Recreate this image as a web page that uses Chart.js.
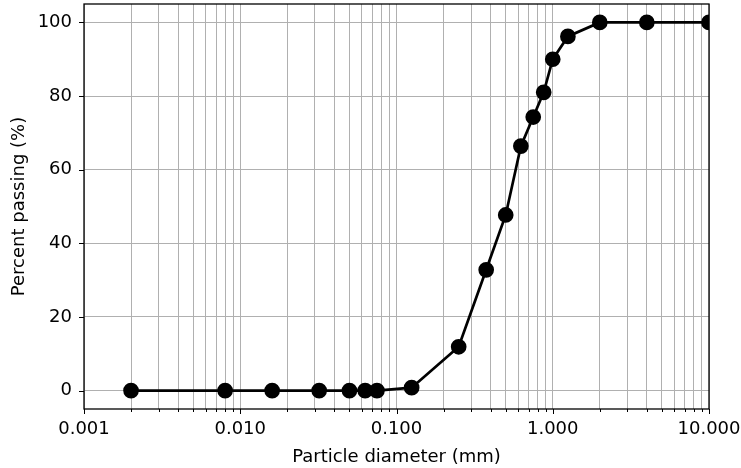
<!DOCTYPE html>
<html>
<head>
<meta charset="utf-8">
<script src="https://cdn.jsdelivr.net/npm/chart.js@4.4.0/dist/chart.umd.min.js"></script>
<style>
  html, body { margin: 0; padding: 0; background: #fff; }
  #wrap { width: 741px; height: 468px; }
</style>
</head>
<body>
<div id="wrap"><canvas id="grading"></canvas></div>
<script>
// sieve sizes (mm) and percent passing
const diameters = [0.002, 0.008, 0.016, 0.032, 0.05, 0.063, 0.075, 0.125, 0.25, 0.375, 0.5, 0.625, 0.75, 0.875, 1.0, 1.25, 2.0, 4.0, 10.0];
const passing = [0, 0, 0, 0, 0, 0, 0, 0.8, 11.9, 32.8, 47.7, 66.4, 74.3, 81.0, 90.0, 96.2, 100, 100, 100];
const yTicks = [0, 20, 40, 60, 80, 100];
const xMajors = [0.001, 0.01, 0.1, 1, 10];

Chart.defaults.font.family = "'DejaVu Sans', sans-serif";
Chart.defaults.font.size = 18;
Chart.defaults.color = '#000';

// all log ticks 1..9 x 10^k between the limits
function logTicks() {
    var out = [];
    for (var k = -3; k <= 0; k++) {
        for (var m = 1; m <= 9; m++) {
            out.push({ value: parseFloat((m * Math.pow(10, k)).toPrecision(3)) });
        }
    }
    out.push({ value: 10 });
    return out;
}
function isMajor(v) {
    return xMajors.some(function (m) { return Math.abs(v - m) / m < 1e-6; });
}
// stop the scales from reserving room for half labels at the ends
function noEdgePadding(scale) {
    scale.paddingTop = 0;
    scale.paddingBottom = 0;
    scale.paddingLeft = 0;
    scale.paddingRight = 0;
}

// tick marks and the box around the plot, like matplotlib
const frame = {
    id: 'frame',
    afterDraw: function (chart) {
        var c = chart.ctx, a = chart.chartArea;
        var xs = chart.scales.x, ys = chart.scales.y;
        c.save();
        c.strokeStyle = '#000';
        c.lineWidth = 1;
        xs.ticks.forEach(function (t) {
            var px = Math.round(xs.getPixelForValue(t.value)) + 0.5;
            var len = isMajor(t.value) ? 5 : 3;
            c.beginPath();
            c.moveTo(px, a.bottom);
            c.lineTo(px, a.bottom + len);
            c.stroke();
        });
        ys.ticks.forEach(function (t) {
            var py = Math.round(ys.getPixelForValue(t.value)) + 0.5;
            c.beginPath();
            c.moveTo(a.left - 5, py);
            c.lineTo(a.left, py);
            c.stroke();
        });
        c.lineWidth = 1.3;
        c.strokeRect(a.left, a.top, a.right - a.left, a.bottom - a.top);
        c.restore();
    }
};

new Chart(document.getElementById('grading').getContext('2d'), {
    type: 'scatter',
    data: {
        datasets: [{
            data: diameters.map(function (d, i) { return { x: d, y: passing[i] }; }),
            showLine: true,
            borderColor: '#000',
            backgroundColor: '#000',
            borderWidth: 2.7,
            pointRadius: 6.5,
            pointHoverRadius: 6.5,
            clip: 0
        }]
    },
    options: {
        responsive: true,
        maintainAspectRatio: false,
        animation: false,
        layout: { autoPadding: false, padding: { left: 0, right: 32, top: 4, bottom: 0 } },
        plugins: { legend: { display: false }, tooltip: { enabled: false } },
        scales: {
            x: {
                type: 'logarithmic',
                min: 0.001,
                max: 10,
                afterBuildTicks: function (scale) { scale.ticks = logTicks(); },
                afterFit: function (scale) { scale.height = 59; noEdgePadding(scale); },
                ticks: {
                    autoSkip: false,
                    maxRotation: 0,
                    padding: 10,
                    callback: function (v) { return isMajor(v) ? v.toFixed(3) : ''; }
                },
                grid: { color: '#b0b0b0', lineWidth: 1, drawTicks: false },
                border: { display: false },
                title: { display: true, text: 'Particle diameter (mm)', padding: { top: 2, bottom: 0 } }
            },
            y: {
                min: -5,
                max: 105,
                afterBuildTicks: function (scale) {
                    scale.ticks = yTicks.map(function (v) { return { value: v }; });
                },
                afterFit: function (scale) { scale.width = 84; noEdgePadding(scale); },
                ticks: { padding: 12 },
                grid: { color: '#b0b0b0', lineWidth: 1, drawTicks: false },
                border: { display: false },
                title: { display: true, text: 'Percent passing (%)', padding: { top: 9, bottom: 4 } }
            }
        }
    },
    plugins: [frame]
});
</script>
</body>
</html>
